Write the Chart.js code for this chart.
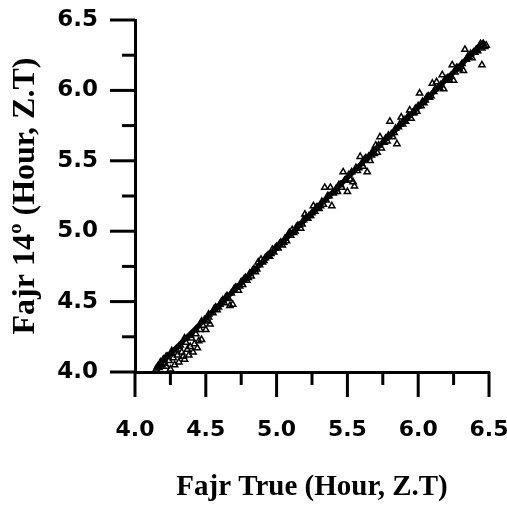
<!DOCTYPE html>
<html>
<head>
<meta charset="utf-8">
<script src="https://cdn.jsdelivr.net/npm/chart.js@4"></script>
<style>
  html, body { margin: 0; padding: 0; background: #fff; }
  #wrap { width: 507px; height: 505px; }
</style>
</head>
<body>
<div id="wrap"><canvas id="fajr-chart" width="507" height="505"></canvas></div>
<script>
// Fajr true time vs. Fajr at 14 deg (hours, Z.T)
const fajrTrue = [
  4.15, 4.16, 4.17, 4.18, 4.19, 4.20, 4.21, 4.22, 4.23, 4.24, 4.25, 4.26, 4.27, 4.28, 4.29, 4.30,
  4.31, 4.32, 4.33, 4.34, 4.35, 4.36, 4.37, 4.38, 4.39, 4.40, 4.41, 4.42, 4.43, 4.44, 4.45, 4.46,
  4.47, 4.48, 4.49, 4.50, 4.51, 4.52, 4.53,
  4.55, 4.57, 4.58, 4.60, 4.61, 4.63, 4.64, 4.66, 4.67, 4.69, 4.70, 4.72, 4.73, 4.75, 4.76, 4.78,
  4.79, 4.81, 4.82, 4.84, 4.85, 4.87, 4.88, 4.89, 4.91, 4.92, 4.94, 4.95, 4.97, 4.98, 5.00,
  5.01, 5.03, 5.04, 5.06, 5.07, 5.09, 5.10, 5.11, 5.13, 5.14, 5.16, 5.17, 5.19, 5.20, 5.22, 5.23,
  5.25, 5.26, 5.27, 5.29, 5.30, 5.32, 5.33, 5.34, 5.35, 5.37, 5.38, 5.39, 5.40, 5.42, 5.43, 5.45,
  5.46, 5.47, 5.48, 5.50, 5.51, 5.52,
  5.54, 5.55, 5.56, 5.57, 5.59, 5.60, 5.61, 5.62, 5.64, 5.65, 5.66, 5.68, 5.69, 5.70, 5.71, 5.73,
  5.74, 5.75, 5.77, 5.78, 5.80, 5.81, 5.82, 5.84, 5.85, 5.86, 5.88, 5.89, 5.90, 5.92, 5.94, 5.95,
  5.96, 5.98, 5.99,
  6.01, 6.02, 6.03, 6.05, 6.07, 6.08, 6.10, 6.11, 6.13, 6.14, 6.16, 6.17, 6.18, 6.19, 6.21, 6.22,
  6.24, 6.25, 6.26, 6.28, 6.29, 6.31, 6.32, 6.33, 6.34, 6.36, 6.37, 6.38, 6.39, 6.41, 6.42, 6.43,
  6.44, 6.45, 6.45, 6.46, 6.47, 6.48,
  4.18, 4.22, 4.26, 4.31, 4.35, 4.39, 4.43, 4.47, 4.52, 4.56, 4.59, 4.62, 4.65, 4.68, 4.71, 4.74,
  4.77, 4.80, 4.83, 4.86, 4.90, 4.93, 4.96, 4.99, 5.02, 5.05, 5.08, 5.12, 5.15, 5.18, 5.21, 5.24,
  5.28, 5.31, 5.36, 5.41, 5.44, 5.49, 5.53, 5.58, 5.63, 5.67, 5.72, 5.76, 5.79, 5.83, 5.87, 5.91,
  5.93, 5.97, 6.00, 6.04, 6.06, 6.09, 6.12, 6.15, 6.20, 6.23, 6.27, 6.30, 6.35, 6.40, 6.44
];
const fajr14 = [
  4.02, 4.04, 4.03, 4.07, 4.05, 4.09, 4.06, 4.04, 4.11, 4.08, 4.02, 4.13, 4.10, 4.05, 4.16, 4.12,
  4.07, 4.19, 4.14, 4.11, 4.09, 4.21, 4.16, 4.12, 4.18, 4.24, 4.14, 4.20, 4.27, 4.17, 4.22, 4.30,
  4.23, 4.33, 4.37, 4.30, 4.36, 4.39, 4.34,
  4.42, 4.46, 4.44, 4.48, 4.50, 4.49, 4.53, 4.52, 4.47, 4.48, 4.59, 4.60, 4.58, 4.64, 4.62, 4.67,
  4.65, 4.70, 4.68, 4.73, 4.71, 4.78, 4.76, 4.80, 4.79, 4.81, 4.83, 4.82, 4.87, 4.85, 4.89,
  4.88, 4.92, 4.90, 4.95, 4.93, 4.99, 4.97, 5.01, 5.00, 5.03, 5.04, 5.02, 5.08, 5.12, 5.09, 5.11,
  5.13, 5.18, 5.14, 5.17, 5.16, 5.21, 5.19, 5.31, 5.22, 5.25, 5.31, 5.18, 5.27, 5.30, 5.28, 5.33,
  5.31, 5.42, 5.36, 5.28, 5.40, 5.37,
  5.35, 5.32, 5.45, 5.43, 5.53, 5.48, 5.46, 5.51, 5.42, 5.53, 5.50, 5.57, 5.55, 5.61, 5.56, 5.67,
  5.59, 5.63, 5.66, 5.64, 5.78, 5.69, 5.67, 5.73, 5.62, 5.74, 5.81, 5.76, 5.79, 5.80, 5.86, 5.80,
  5.84, 5.87, 5.85,
  5.98, 5.89, 5.92, 5.93, 5.96, 5.95, 6.05, 5.99, 6.06, 6.02, 6.04, 6.11, 6.01, 6.08, 6.09, 6.07,
  6.18, 6.07, 6.13, 6.16, 6.15, 6.19, 6.14, 6.29, 6.22, 6.24, 6.26, 6.23, 6.27, 6.29, 6.28, 6.31,
  6.32, 6.30, 6.18, 6.33, 6.31, 6.32,
  4.05, 4.11, 4.15, 4.18, 4.24, 4.26, 4.30, 4.36, 4.41, 4.45, 4.46, 4.51, 4.54, 4.56, 4.60, 4.61,
  4.66, 4.67, 4.72, 4.73, 4.78, 4.82, 4.84, 4.88, 4.91, 4.92, 4.97, 4.99, 5.04, 5.05, 5.10, 5.11,
  5.17, 5.18, 5.25, 5.28, 5.33, 5.36, 5.42, 5.45, 5.52, 5.54, 5.61, 5.63, 5.68, 5.70, 5.76, 5.78,
  5.82, 5.84, 5.89, 5.91, 5.95, 5.96, 6.01, 6.02, 6.08, 6.10, 6.16, 6.17, 6.24, 6.27, 6.33
];

// fitted line
const fitX = [4.15, 6.47];
const fitY = [4.03, 6.35];

// axis ticks (labelled every 0.5, minor in between)
const axisTicks = [4.0, 4.25, 4.5, 4.75, 5.0, 5.25, 5.5, 5.75, 6.0, 6.25, 6.5];

function isMajor(v) {
  return Math.abs(v * 2 - Math.round(v * 2)) < 1e-6;
}

const scatterPoints = fajrTrue.map((x, i) => ({ x: x, y: fajr14[i] }));
const fitPoints = fitX.map((x, i) => ({ x: x, y: fitY[i] }));

// outward tick marks, long for the labelled ones
const tickMarks = {
  id: 'tickMarks',
  afterDraw(chart) {
    const ctx = chart.ctx;
    const xs = chart.scales.x;
    const ys = chart.scales.y;
    ctx.save();
    ctx.strokeStyle = '#000';
    ctx.lineWidth = 3;
    xs.ticks.forEach(t => {
      const px = xs.getPixelForValue(t.value);
      const len = isMajor(t.value) ? 25 : 13;
      ctx.beginPath();
      ctx.moveTo(px, xs.top);
      ctx.lineTo(px, xs.top + len);
      ctx.stroke();
    });
    ys.ticks.forEach(t => {
      const py = ys.getPixelForValue(t.value);
      const len = isMajor(t.value) ? 25 : 13;
      ctx.beginPath();
      ctx.moveTo(ys.right, py);
      ctx.lineTo(ys.right - len, py);
      ctx.stroke();
    });
    ctx.restore();
  }
};

const tickFont = (size) => ({ family: 'DejaVu Sans', weight: 'bold', size: size });

const ctx = document.getElementById('fajr-chart').getContext('2d');
const chart = new Chart(ctx, {
  type: 'scatter',
  data: {
    datasets: [
      {
        type: 'line',
        label: 'fit',
        data: fitPoints,
        borderColor: '#000',
        borderWidth: 5,
        pointRadius: 0,
        fill: false,
        clip: false,
        order: 0
      },
      {
        label: 'Fajr 14',
        data: scatterPoints,
        pointStyle: 'triangle',
        pointRadius: 3.6,
        borderColor: '#000',
        borderWidth: 1.5,
        backgroundColor: 'rgba(255,255,255,0)',
        clip: false,
        order: 1
      }
    ]
  },
  options: {
    responsive: false,
    animation: false,
    events: [],
    layout: { padding: { top: 20, right: 18, left: 0, bottom: 0 } },
    plugins: {
      legend: { display: false },
      tooltip: { enabled: false }
    },
    scales: {
      x: {
        type: 'linear',
        min: 4.0,
        max: 6.5,
        afterBuildTicks: (scale) => { scale.ticks = axisTicks.map(v => ({ value: v })); },
        afterFit: (scale) => {
          scale.height = 133;
          scale.paddingLeft = 0;
          scale.paddingRight = 0;
        },
        grid: { display: false, drawTicks: true, tickLength: 25 },
        border: { display: true, color: '#000', width: 3 },
        ticks: {
          color: '#000',
          font: tickFont(22),
          padding: 20,
          maxRotation: 0,
          autoSkip: false,
          callback: (v) => isMajor(v) ? v.toFixed(1) : ''
        },
        title: {
          display: true,
          text: 'Fajr True (Hour, Z.T)',
          color: '#000',
          font: { family: 'Liberation Serif', weight: 'bold', size: 29 },
          padding: { top: 0, bottom: 0 }
        }
      },
      y: {
        type: 'linear',
        min: 4.0,
        max: 6.5,
        afterBuildTicks: (scale) => { scale.ticks = axisTicks.map(v => ({ value: v })); },
        afterFit: (scale) => {
          scale.width = 135;
          scale.paddingTop = 0;
          scale.paddingBottom = 0;
        },
        grid: { display: false, drawTicks: true, tickLength: 25 },
        border: { display: true, color: '#000', width: 3 },
        ticks: {
          color: '#000',
          font: tickFont(23),
          padding: 12,
          autoSkip: false,
          callback: (v) => isMajor(v) ? v.toFixed(1) : ''
        },
        title: {
          display: true,
          text: 'Fajr 14º (Hour, Z.T)',
          color: '#000',
          font: { family: 'Liberation Serif', weight: 'bold', size: 32 },
          padding: { top: 7, bottom: 0 }
        }
      }
    }
  },
  plugins: [tickMarks]
});
</script>
</body>
</html>
